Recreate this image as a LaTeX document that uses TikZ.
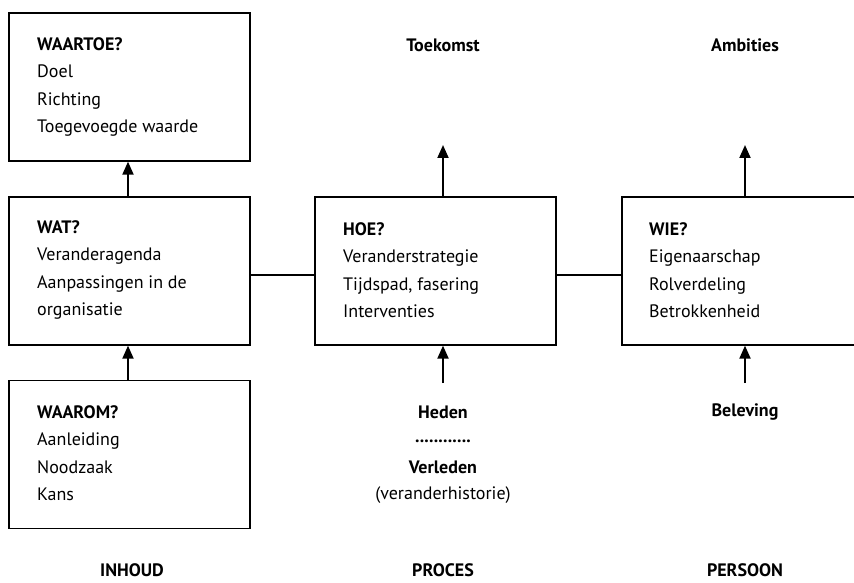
\documentclass[tikz,border=0pt]{standalone}
\usepackage{fontspec}
\setmainfont{PT Sans}
\usetikzlibrary{arrows.meta}
\begin{document}
\begin{tikzpicture}[x=1pt,y=-1pt,
  box/.style={draw, line width=1.3pt, minimum width=241pt, minimum height=148pt, inner sep=0pt},
  txt/.style={anchor=west, align=left, inner sep=0pt, font=\fontsize{18}{27.5}\selectfont},
  lbl/.style={inner sep=0pt, font=\fontsize{18}{22}\selectfont\bfseries},
  sub/.style={inner sep=0pt, font=\fontsize{18}{22}\selectfont},
  dotrow/.style={inner sep=0pt, anchor=base, text height=2.5pt, text depth=0pt, font=\fontsize{18}{22}\selectfont\bfseries},
  conn/.style={line width=2pt},
  arr/.style={line width=2pt, -{Triangle[length=13pt,width=11pt]}}]
\clip (0,0) rectangle (854,583);
% boxes
\node[box] (waartoe) at (129.5,87) {};
\node[box] (wat) at (129.5,271) {};
\node[box] (waarom) at (129.5,454.5) {};
\node[box] (hoe) at (435.5,271) {};
\node[box] (wie) at (742.5,271) {};
% box texts
\node[txt] (t1) at (37,87) {\textbf{WAARTOE?}\\Doel\\Richting\\Toegevoegde waarde};
\node[txt] (t2) at (37,270) {\textbf{WAT?}\\Veranderagenda\\Aanpassingen in de\\organisatie};
\node[txt] (t3) at (37,453) {\textbf{WAAROM?}\\Aanleiding\\Noodzaak\\Kans};
\node[txt] (t4) at (343,270) {\textbf{HOE?}\\Veranderstrategie\\Tijdspad, fasering\\Interventies};
\node[txt] (t5) at (649,270) {\textbf{WIE?}\\Eigenaarschap\\Rolverdeling\\Betrokkenheid};
% labels
\node[lbl] (toekomst) at (443,45) {Toekomst};
\node[lbl] (ambities) at (745,45) {Ambities};
\node[lbl] (heden) at (443,412) {Heden};
\node[dotrow] (dots) at (443,442) {............};
\node[lbl] (verleden) at (443,467) {Verleden};
\node[sub] (hist) at (443,495) {(veranderhistorie)};
\node[lbl] (beleving) at (745,412) {Beleving};
\node[lbl] (inhoud) at (132,570) {INHOUD};
\node[lbl] (proces) at (443,570) {PROCES};
\node[lbl] (persoon) at (745,570) {PERSOON};
% coordinates
\coordinate (hline) at (0,275);
\coordinate (futtip) at (443,145);
\coordinate (ambtip) at (745,145);
\coordinate (hedstart) at (443,383);
\coordinate (belstart) at (745,383);
% connectors
\draw[conn] (wat.east |- hline) -- (hoe.west |- hline);
\draw[conn] (hoe.east |- hline) -- (wie.west |- hline);
\draw[arr] (wat.north -| 128,0) -- (waartoe.south -| 128,0);
\draw[arr] (waarom.north -| 128,0) -- (wat.south -| 128,0);
\draw[arr] (hoe.north -| futtip) -- (futtip);
\draw[arr] (wie.north -| ambtip) -- (ambtip);
\draw[arr] (hedstart) -- (hoe.south -| hedstart);
\draw[arr] (belstart) -- (wie.south -| belstart);
\end{tikzpicture}
\end{document}
